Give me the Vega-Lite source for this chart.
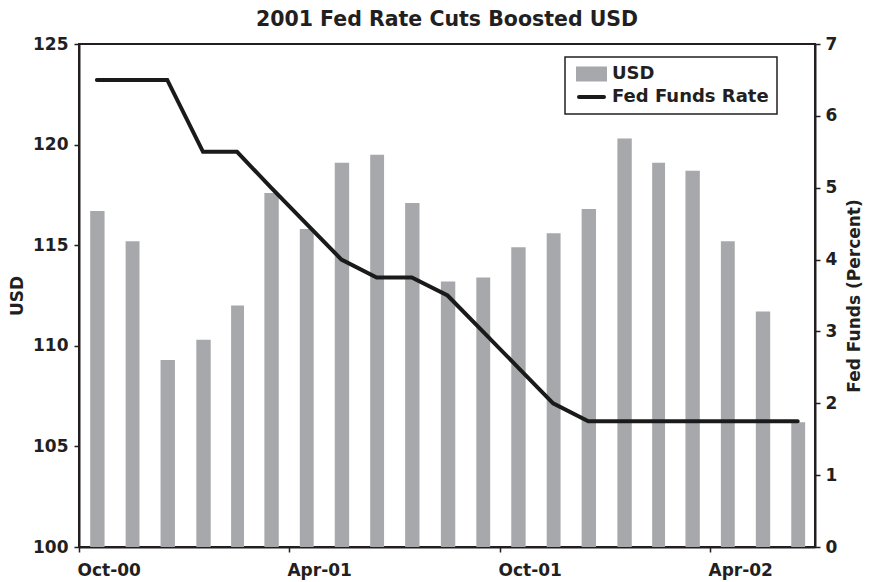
{
  "$schema": "https://vega.github.io/schema/vega-lite/v6.json",
  "width": 736,
  "height": 503,
  "autosize": {"type": "none"},
  "padding": {"left": 79, "top": 44, "right": 54, "bottom": 35},
  "background": "white",
  "title": {"text": "2001 Fed Rate Cuts Boosted USD", "font": "DejaVu Sans", "fontSize": 20.5, "fontWeight": "bold", "color": "#231f20", "frame": "group", "offset": 5, "anchor": "middle"},
  "config": {
    "font": "DejaVu Sans",
    "view": {"stroke": "#231f20", "strokeWidth": 2},
    "axis": {"grid": false, "domainColor": "#231f20", "domainWidth": 2, "tickColor": "#231f20", "tickWidth": 1.5, "tickSize": 5, "labelFont": "DejaVu Sans", "labelFontSize": 17, "labelFontWeight": "bold", "labelColor": "#231f20", "titleFont": "DejaVu Sans", "titleFontSize": 17, "titleFontWeight": "bold", "titleColor": "#231f20"},
    "legend": {"orient": "none", "legendX": 486, "legendY": 13, "strokeColor": "#231f20", "strokeWidth": 1.5, "padding": 8, "labelFont": "DejaVu Sans", "labelFontSize": 18, "labelFontWeight": "bold", "labelColor": "#231f20", "symbolSize": 100, "labelOffset": 21, "rowPadding": 0}
  },
  "data": {"values": [
    {"date": "2000-10-15", "usd": 116.7, "fed": 6.5},
    {"date": "2000-11-15", "usd": 115.2, "fed": 6.5},
    {"date": "2000-12-15", "usd": 109.3, "fed": 6.5},
    {"date": "2001-01-15", "usd": 110.3, "fed": 5.5},
    {"date": "2001-02-15", "usd": 112.0, "fed": 5.5},
    {"date": "2001-03-15", "usd": 117.6, "fed": 5.0},
    {"date": "2001-04-15", "usd": 115.8, "fed": 4.5},
    {"date": "2001-05-15", "usd": 119.1, "fed": 4.0},
    {"date": "2001-06-15", "usd": 119.5, "fed": 3.75},
    {"date": "2001-07-15", "usd": 117.1, "fed": 3.75},
    {"date": "2001-08-15", "usd": 113.2, "fed": 3.5},
    {"date": "2001-09-15", "usd": 113.4, "fed": 3.0},
    {"date": "2001-10-15", "usd": 114.9, "fed": 2.5},
    {"date": "2001-11-15", "usd": 115.6, "fed": 2.0},
    {"date": "2001-12-15", "usd": 116.8, "fed": 1.75},
    {"date": "2002-01-15", "usd": 120.3, "fed": 1.75},
    {"date": "2002-02-15", "usd": 119.1, "fed": 1.75},
    {"date": "2002-03-15", "usd": 118.7, "fed": 1.75},
    {"date": "2002-04-15", "usd": 115.2, "fed": 1.75},
    {"date": "2002-05-15", "usd": 111.7, "fed": 1.75},
    {"date": "2002-06-15", "usd": 106.2, "fed": 1.75}
  ]},
  "layer": [
    {
      "mark": {"type": "bar", "width": {"band": 0.43}},
      "encoding": {
        "x": {"field": "date", "timeUnit": "utcyearmonth", "type": "temporal",
          "scale": {"type": "utc", "domain": [{"year": 2000, "month": 10, "date": 1, "utc": true}, {"year": 2002, "month": 7, "date": 1, "utc": true}], "nice": false},
          "axis": {"title": null, "values": [
              {"year": 2000, "month": 10, "date": 1, "utc": true},
              {"year": 2001, "month": 4, "date": 1, "utc": true},
              {"year": 2001, "month": 10, "date": 1, "utc": true},
              {"year": 2002, "month": 4, "date": 1, "utc": true}],
            "labelExpr": "utcFormat(datum.value, '%b-%y')", "labelAlign": "left", "labelAngle": 0, "labelPadding": 10, "labelOffset": -2, "labelOverlap": false, "labelBound": false, "labelFlush": false, "grid": false}},
        "y": {"field": "usd", "type": "quantitative", "scale": {"domain": [100, 125], "zero": false, "nice": false},
          "axis": {"title": "USD", "values": [100, 105, 110, 115, 120, 125], "labelPadding": 6, "titlePadding": 6}},
        "y2": {"datum": 100},
        "color": {"datum": "USD", "type": "nominal",
          "scale": {"domain": ["USD", "Fed Funds Rate"], "range": ["#a6a8ab", "#1a1a1a"]},
          "legend": {"title": null,
            "encode": {"symbols": {"update": {
              "shape": {"signal": "datum.value === 'USD' ? 'M-0.8,-1.09H4.6V1.09H-0.8Z' : 'M-0.6,0H4.4'"},
              "fill": {"signal": "datum.value === 'USD' ? '#a6a8ab' : 'transparent'"},
              "stroke": {"signal": "datum.value === 'USD' ? 'transparent' : '#1a1a1a'"},
              "strokeWidth": {"value": 4},
              "strokeCap": {"value": "round"},
              "opacity": {"value": 1}
            }}}}}
      }
    },
    {
      "mark": {"type": "line", "strokeWidth": 4, "strokeCap": "round"},
      "encoding": {
        "x": {"field": "date", "timeUnit": "utcyearmonth", "type": "temporal", "bandPosition": 0.5},
        "y": {"field": "fed", "type": "quantitative", "scale": {"domain": [0, 7], "nice": false},
          "axis": {"title": "Fed Funds (Percent)", "orient": "right", "titleAngle": 270, "values": [0, 1, 2, 3, 4, 5, 6, 7], "labelPadding": 5, "titlePadding": 27}},
        "color": {"datum": "Fed Funds Rate", "type": "nominal"}
      }
    }
  ],
  "resolve": {"scale": {"y": "independent"}}
}
